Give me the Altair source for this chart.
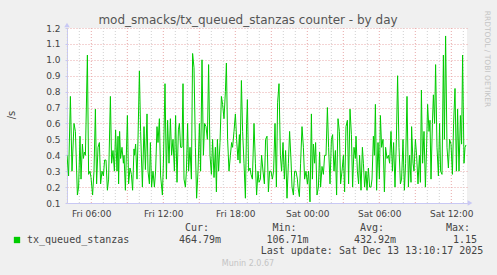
import altair as alt
import pandas as pd

# ---- data: minutes after Fri 2025-12-12 03:53:30, value (/s)
m1 = [5,13,22,30,40,47,57,63,70,75,82,87,92,97,107,113,120,125,133,140,147,153,160,167,173,180,187,193,200,207,213,222,228,235,242,248,255,260,263,268,273,280,287]
v1 = [0.4,0.27,0.77,0.3,0.6,0.55,0.15,0.2,0.52,0.25,0.47,0.38,0.42,0.4,1.03,0.28,0.3,0.26,0.15,0.3,0.69,0.22,0.45,0.48,0.22,0.3,0.27,0.37,0.37,0.18,0.25,0.77,0.35,0.43,0.3,0.56,0.3,0.52,0.22,0.55,0.38,0.45,0.35]
m2 = [290,297,307,313,320,327,333,340,343,348,355,360,367,373,382,390,397,405,410,417,422,428,435,442,448,455,460,467,473,482,487,495,502,508,515,522,528,535,542,548,555,562,567,573]
v2 = [0.4,0.18,0.65,0.22,0.32,0.28,0.18,0.44,0.4,0.47,0.25,0.5,0.93,0.55,0.2,0.58,0.31,0.66,0.3,0.22,0.48,0.2,0.3,0.2,0.3,0.58,0.48,0.63,0.27,0.15,0.35,0.85,0.25,0.62,0.35,0.63,0.4,0.5,0.3,0.65,0.23,0.56,0.6,0.45]
m3 = [580,585,590,597,602,608,613,620,627,633,640,647,653,660,667,673,680,687,693,700,707,713,720,727,733,740,747,752,757,763,770,777,783,790,797,802,808,815,822,828,833,840,847,853,860,867]
v3 = [0.45,0.85,0.25,0.2,0.3,0.6,0.3,0.45,0.25,1.04,0.95,0.45,0.13,0.3,0.6,0.3,1.0,0.4,0.6,0.58,0.5,0.97,0.4,0.28,0.5,0.26,0.45,0.17,0.5,0.3,0.48,0.77,0.72,0.63,0.8,0.98,0.5,0.3,0.4,0.48,0.45,0.55,0.66,0.5,0.37,0.53]
m4 = [870,877,883,890,897,903,907,913,920,925,932,940,947,953,960,965,972,978,985,992,998,1005,1012,1018,1025,1032,1038,1045,1052,1058,1065,1072,1078,1085,1092,1098,1105,1112,1118,1125,1130,1137,1143,1150,1157]
v4 = [0.35,0.87,0.55,0.35,0.13,0.6,0.75,0.3,0.32,0.28,0.25,0.6,0.35,0.15,0.3,0.23,0.25,0.4,0.3,0.22,0.5,0.52,0.17,0.3,0.3,0.25,0.3,0.6,0.2,0.73,0.85,0.4,0.3,0.48,0.25,0.43,0.13,0.35,0.55,0.37,0.2,0.15,0.3,0.3,0.25]
m5 = [1160,1167,1173,1180,1187,1193,1200,1207,1213,1220,1227,1232,1237,1243,1248,1255,1262,1268,1273,1280,1287,1293,1300,1307,1313,1320,1327,1333,1340,1347,1353,1360,1367,1373,1380,1387,1393,1400,1407,1413,1420,1427,1433,1440,1447]
v5 = [0.2,0.14,0.35,0.58,0.45,0.25,0.3,0.22,0.3,0.107,0.66,0.25,0.47,0.35,0.48,0.15,0.2,0.42,0.2,0.33,0.28,0.4,0.4,0.7,0.45,0.22,0.5,0.53,0.3,0.43,0.15,0.63,0.55,0.22,0.3,0.4,0.17,0.58,0.62,0.22,0.69,0.53,0.2,0.45,0.38]
m6 = [1450,1457,1463,1468,1475,1482,1487,1493,1500,1505,1512,1518,1525,1530,1537,1542,1547,1553,1560,1567,1572,1578,1585,1592,1598,1605,1612,1618,1625,1632,1638,1645,1652,1658,1665,1672,1678,1685,1692,1698,1705,1712,1718,1725,1728,1735]
v6 = [0.52,0.3,0.22,0.4,0.18,0.45,0.35,0.2,0.3,0.18,0.32,0.2,0.2,0.25,0.52,0.4,0.72,0.18,0.48,0.25,0.65,0.45,0.5,0.17,0.45,0.38,0.4,0.35,0.55,0.3,0.48,0.2,0.5,0.9,0.45,0.22,0.25,0.5,0.18,0.35,0.77,0.2,0.4,0.23,0.58,0.35]
m7 = [1740,1747,1753,1760,1767,1772,1777,1783,1790,1797,1803,1808,1815,1820,1825,1832,1837,1843,1848,1855,1862,1868,1873,1880,1887,1892,1898,1905,1912,1918,1925,1932,1938,1945,1952,1958,1965,1972,1978,1983,1990,1995,2000]
v7 = [0.3,0.5,0.4,0.22,0.4,0.23,0.81,0.35,0.55,0.2,0.45,0.72,0.55,0.62,0.25,0.6,0.78,0.6,0.97,0.45,0.27,0.6,0.3,0.28,1.03,0.5,1.15,0.45,0.32,0.5,0.47,0.28,0.6,0.82,0.3,0.69,0.3,0.65,0.47,1.03,0.35,0.45,0.465]

title_text = "mod_smacks/tx_queued_stanzas counter - by day"
series_name = "tx_queued_stanzas"
stat_heads = ["Cur:", "Min:", "Avg:", "Max:"]
stat_vals = ["464.79m", "106.71m", "432.92m", "1.15"]
last_update = "Last update: Sat Dec 13 13:10:17 2025"
y_ticks = [0.1, 0.2, 0.3, 0.4, 0.5, 0.6, 0.7, 0.8, 0.9, 1.0, 1.1, 1.2]

base = pd.Timestamp("2025-12-12 03:53:30")
minutes = m1 + m2 + m3 + m4 + m5 + m6 + m7
values = v1 + v2 + v3 + v4 + v5 + v6 + v7
df = pd.DataFrame({"time": [base + pd.Timedelta(minutes=m) for m in minutes], "value": values})

hours = pd.date_range("2025-12-12 04:00", "2025-12-13 13:00", freq="h")
minor_df = pd.DataFrame({"time": [h for h in hours if h.hour % 3 != 0]})
major_df = pd.DataFrame({"time": [h for h in hours if h.hour % 3 == 0]})

def dt(d, h, mi=0, s=0):
    return alt.DateTime(year=2025, month=12, date=d, hours=h, minutes=mi, seconds=s)

xscale = alt.Scale(domain=[dt(12, 3, 58, 30), dt(13, 13, 18, 30)])
xaxis = alt.Axis(
    title=None, format="%a %H:%M", grid=False, ticks=False,
    values=[dt(12, 6), dt(12, 12), dt(12, 18), dt(13, 0), dt(13, 6), dt(13, 12)],
    labelFont="DejaVu Sans", labelFontSize=9, labelColor="#444444", labelPadding=6,
    domainColor="#c8c8f4", labelFlush=False, labelOverlap=False,
)
yaxis = alt.Axis(
    title=None, values=y_ticks, format=".1f", labelFont="DejaVu Sans", labelFontSize=9,
    labelColor="#444444", gridColor="#e8a8a8", gridDash=[1, 2], gridWidth=1,
    tickColor="#c8c8f4", tickSize=2, labelPadding=5, domainColor="#c8c8f4",
)
X = alt.X("time:T", scale=xscale, axis=xaxis)

minor = alt.Chart(minor_df).mark_rule(color="#d0d0d0", strokeDash=[1, 2], strokeWidth=1).encode(x=X)
major = alt.Chart(major_df).mark_rule(color="#e8a8a8", strokeDash=[1, 2], strokeWidth=1).encode(x=X)
line = alt.Chart(df).mark_line(color="#00cc00", strokeWidth=1, clip=True).encode(
    x=X, y=alt.Y("value:Q", scale=alt.Scale(domain=[0.1, 1.2], nice=False, zero=False), axis=yaxis)
)

def label(text, x, y, size=9, color="#444444", font="DejaVu Sans", align="center", angle=None):
    kw = dict(align=align, baseline="middle", fontSize=size, font=font, color=color)
    if angle is not None:
        kw["angle"] = angle
    return alt.Chart(pd.DataFrame({"label": [text]})).mark_text(**kw).encode(
        x=alt.value(x), y=alt.value(y), text="label:N")

one = pd.DataFrame({"k": [0]})
xarrow = alt.Chart(one).mark_point(shape="triangle-right", filled=True, color="#c8c8f4", size=30, opacity=1).encode(
    x=alt.value(403), y=alt.value(175))
yarrow = alt.Chart(one).mark_point(shape="triangle-up", filled=True, color="#c8c8f4", size=30, opacity=1).encode(
    x=alt.value(0), y=alt.value(-3))
swatch = alt.Chart(one).mark_square(color="#00cc00", size=40, opacity=1).encode(x=alt.value(-50), y=alt.value(212))

mono = "DejaVu Sans Mono"
texts = [
    label(title_text, 181, -8, size=12, color="#555555"),
    label("/s", -55, 87, size=10, angle=270),
    label("RRDTOOL / TOBI OETIKER", 420, 31, size=7.5, color="#c4c4c4", angle=90),
    label(series_name, -40, 212, size=10, font=mono, align="left"),
    label(stat_heads[0], 130, 200, size=10, font=mono),
    label(stat_vals[0], 133, 212, size=10, font=mono),
    label(stat_heads[1], 217.5, 200, size=10, font=mono),
    label(stat_vals[1], 220.5, 212, size=10, font=mono),
    label(stat_heads[2], 305, 200, size=10, font=mono),
    label(stat_vals[2], 308, 212, size=10, font=mono),
    label(stat_heads[3], 391, 200, size=10, font=mono),
    label(stat_vals[3], 398, 212, size=10, font=mono),
    label(last_update, 305, 223, size=10, font=mono),
    label("Munin 2.0.67", 181, 236, size=8, color="#c4c4c4"),
]

chart = alt.layer(minor, major, line, xarrow, yarrow, swatch, *texts).properties(
    width=400, height=175, background="#f0f0f0",
    padding={"left": 67, "top": 28, "right": 30, "bottom": 72},
    autosize=alt.AutoSizeParams(type="none"),
).configure_view(fill="white", stroke=None)

chart.save("out.html", embed_options={"renderer": "svg", "actions": False})
